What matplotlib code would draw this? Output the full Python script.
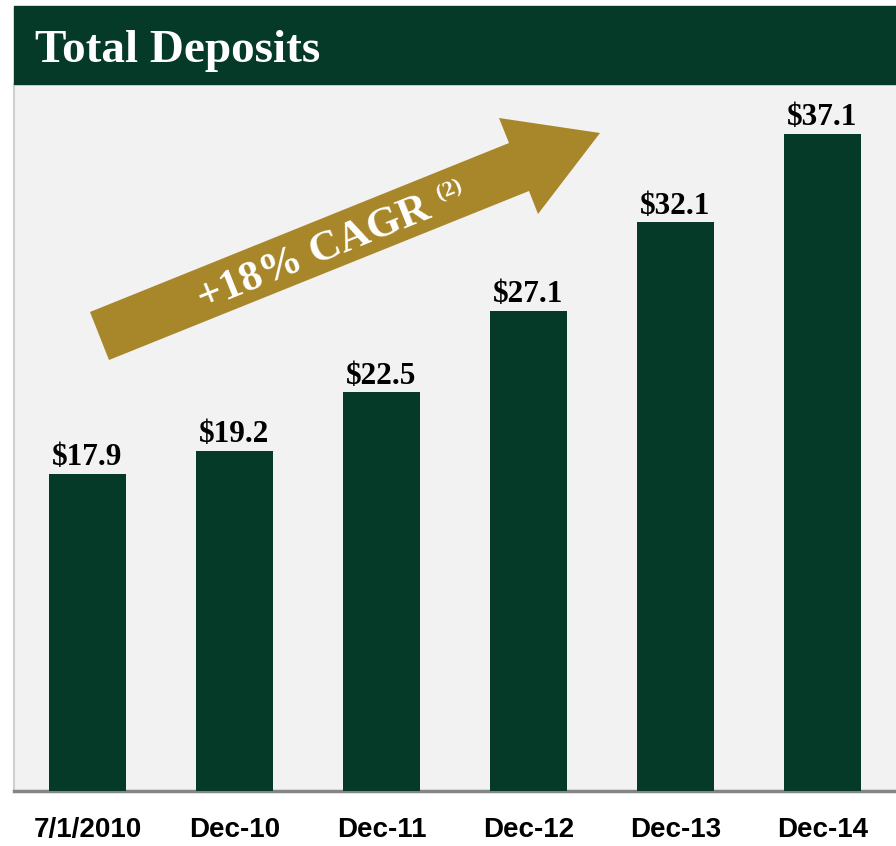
import matplotlib
matplotlib.use("Agg")
import matplotlib.pyplot as plt
from matplotlib.patches import Rectangle, Polygon
from matplotlib import font_manager

categories = ["7/1/2010", "Dec-10", "Dec-11", "Dec-12", "Dec-13", "Dec-14"]
deposits = [17.9, 19.2, 22.5, 27.1, 32.1, 37.1]
title = "Total Deposits"
cagr_text = "+18% CAGR"
cagr_note = "(2)"

W, H = 896, 846
BAR = "#053a28"
GOLD = "#a8862a"
BG = "#f2f2f2"
SERIF = ["Liberation Serif", "DejaVu Serif"]
avail = {f.name for f in font_manager.fontManager.ttflist}
NARROW = "Liberation Sans Narrow" if "Liberation Sans Narrow" in avail else "Liberation Sans"

fig = plt.figure(figsize=(W / 100, H / 100), dpi=100)
fig.patch.set_facecolor("white")

# axes layout in pixels
L, R, T, B = 14, 896, 84, 791
ax = fig.add_axes([L / W, (H - B) / H, (R - L) / W, (B - T) / H])
ax.set_facecolor(BG)

x = list(range(len(categories)))
ax.bar(x, deposits, width=0.52, color=BAR, zorder=3)
ax.set_xlim(-0.5, len(categories) - 0.5)
ax.set_ylim(0, 39.9)
for xi, v in zip(x, deposits):
    ax.annotate(f"${v:.1f}", (xi, v), xytext=(0, 6), textcoords="offset points",
                ha="center", va="baseline", fontsize=22.5, fontweight="bold",
                family=SERIF, color="black", zorder=4)

ax.set_xticks(x)
ax.set_xticklabels(categories, fontsize=20 if NARROW == "Liberation Sans" else 23,
                   fontweight="bold", family=[NARROW, "DejaVu Sans"])
ax.tick_params(axis="x", length=0, pad=19)
ax.set_yticks([])
for s in ["top", "right"]:
    ax.spines[s].set_visible(False)
ax.spines["left"].set_color("#cfcfcf")
ax.spines["left"].set_linewidth(1.5)
ax.spines["bottom"].set_color("#858585")
ax.spines["bottom"].set_linewidth(2.5)

# header band
fig.patches.append(Rectangle((L / W, 1 - 84 / H), (R - L) / W, 78 / H,
                             transform=fig.transFigure, color=BAR, zorder=0))
fig.text(35 / W, 1 - 62 / H, title, color="white", fontsize=34, fontweight="bold",
         family=SERIF, va="baseline", ha="left")

def axfrac(px, py):
    return ((px - L) / (R - L), (B - py) / (B - T))

arrow_px = [(90, 312), (509, 143), (499, 118), (600, 133),
            (538, 214), (529, 191), (109, 360)]
ax.add_patch(Polygon([axfrac(*p) for p in arrow_px], closed=True,
                     transform=ax.transAxes, color=GOLD, zorder=5, lw=0))

ax.text(*axfrac(314, 254), cagr_text, transform=ax.transAxes, rotation=22,
        rotation_mode="anchor", ha="center", va="center", fontsize=31,
        fontweight="bold", family=SERIF, color="white", zorder=6)
ax.text(*axfrac(449, 190), cagr_note, transform=ax.transAxes, rotation=22,
        rotation_mode="anchor", ha="center", va="center", fontsize=16,
        fontweight="bold", family=SERIF, color="white", zorder=6)

fig.savefig("out.png", dpi=100, facecolor="white")
